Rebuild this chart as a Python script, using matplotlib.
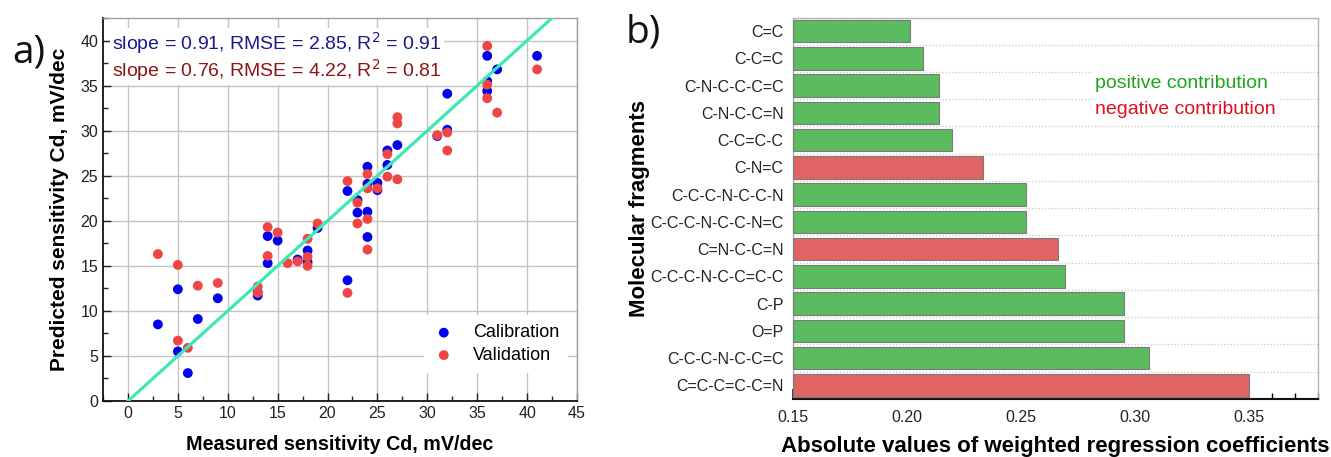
import matplotlib
matplotlib.use("Agg")
import matplotlib.pyplot as plt
import numpy as np
from matplotlib.ticker import MultipleLocator

plt.rcParams['font.family'] = ['Liberation Sans', 'DejaVu Sans']

# ---------------- data: panel a ----------------
cal_x = [3, 5, 5, 6, 7, 9, 13, 13, 14, 14, 15, 17, 18, 18, 19, 22, 22, 23, 23,
         24, 24, 24, 24, 25, 25, 26, 26, 27, 31, 32, 32, 36, 36, 36, 37, 41]
cal_y = [8.5, 12.4, 5.5, 3.1, 9.1, 11.4, 11.7, 12.1, 18.3, 15.3, 17.8, 15.7, 16.7, 15.4, 19.2,
         23.3, 13.4, 22.3, 20.9, 26.0, 24.1, 21.0, 18.2, 24.2, 23.4, 27.8, 26.2, 28.4,
         29.4, 34.1, 30.1, 38.3, 35.5, 34.4, 36.8, 38.3]
val_x = [3, 5, 5, 6, 7, 9, 13, 13, 14, 14, 15, 16, 17, 18, 18, 18, 19, 22, 22, 23, 23,
         24, 24, 24, 24, 25, 26, 26, 27, 27, 27, 31, 32, 32, 36, 36, 36, 37, 41]
val_y = [16.3, 15.1, 6.7, 5.9, 12.8, 13.1, 12.7, 12.0, 19.3, 16.1, 18.7, 15.3, 15.5, 18.0, 16.0,
         15.0, 19.7, 24.4, 12.0, 22.0, 19.7, 25.2, 23.6, 20.2, 16.8, 23.6, 27.4, 24.9,
         31.5, 30.8, 24.6, 29.5, 29.8, 27.8, 39.4, 35.1, 33.6, 32.0, 36.8]
fit_x = [0, 45]
fit_slope = 1.0
stats_cal = "slope = 0.91, RMSE = 2.85, R$^2$ = 0.91"
stats_val = "slope = 0.76, RMSE = 4.22, R$^2$ = 0.81"

# ---------------- data: panel b ----------------
fragments = ["C=C", "C-C=C", "C-N-C-C-C=C", "C-N-C-C=N", "C-C=C-C", "C-N=C",
             "C-C-C-N-C-C-N", "C-C-C-N-C-C-N=C", "C=N-C-C=N", "C-C-C-N-C-C=C-C",
             "C-P", "O=P", "C-C-C-N-C-C=C", "C=C-C=C-C=N"]
coefs = [0.201, 0.207, 0.214, 0.214, 0.2195, 0.233, 0.252, 0.252, 0.266, 0.269,
         0.295, 0.295, 0.306, 0.350]
signs = ["+", "+", "+", "+", "+", "-", "+", "+", "-", "+", "+", "+", "+", "-"]

fig = plt.figure(figsize=(13.31, 4.57), dpi=100)

# ================= panel a =================
ax = fig.add_axes([0.0774, 0.1225, 0.3561, 0.8381])
ax.set_xlim(-2.5, 45)
ax.set_ylim(0, 42.5)
ax.xaxis.set_major_locator(MultipleLocator(5))
ax.xaxis.set_minor_locator(MultipleLocator(2.5))
ax.yaxis.set_major_locator(MultipleLocator(5))
ax.yaxis.set_minor_locator(MultipleLocator(2.5))
ax.grid(True, which='major', color='#c4c4c4', lw=1.0, zorder=0)
ax.set_axisbelow(True)
ax.tick_params(which='major', direction='in', length=6, width=1, labelsize=11.5, color='#222222',
               labelcolor='#222222')
ax.tick_params(which='minor', direction='in', length=3.5, width=1, color='#222222')
for s in ['left', 'bottom']:
    ax.spines[s].set_color('#111111')
    ax.spines[s].set_linewidth(1.3)
for s in ['top', 'right']:
    ax.spines[s].set_color('#a0a0a0')
    ax.spines[s].set_linewidth(1.0)

fx = np.array(fit_x, dtype=float)
ax.plot(fx, fit_slope * fx, color='#3DE8B4', lw=2.3, zorder=4)
ax.scatter(cal_x, cal_y, s=50, color='#0000F0', edgecolors='none', zorder=3, label='Calibration')
ax.scatter(val_x, val_y, s=50, color='#F04545', edgecolors='none', zorder=3.5, label='Validation')

ax.text(0.019, 0.935, stats_cal, transform=ax.transAxes, fontsize=14, color='#1a1a8c',
        va='center', ha='left', zorder=6,
        bbox=dict(facecolor='white', edgecolor='none', pad=1.5))
ax.text(0.019, 0.864, stats_val, transform=ax.transAxes, fontsize=14, color='#8c1414',
        va='center', ha='left', zorder=6,
        bbox=dict(facecolor='white', edgecolor='none', pad=1.5))

leg = ax.legend(loc='lower right', bbox_to_anchor=(1.0, 0.05), fontsize=13, frameon=True,
                facecolor='white', edgecolor='none', framealpha=1, fancybox=False,
                handletextpad=1.0, borderpad=0.5, labelspacing=0.3, handlelength=1.2)
leg.set_zorder(7)

ax.set_xlabel("Measured sensitivity Cd, mV/dec", fontsize=14.2, fontweight='bold', labelpad=10)
ax.set_ylabel("Predicted sensitivity Cd, mV/dec", fontsize=15, fontweight='bold', labelpad=8)

# ================= panel b =================
bx = fig.add_axes([0.596, 0.127, 0.394, 0.8347])
ypos = np.arange(len(fragments))
colors = ['#5DBB5F' if s == '+' else '#E06464' for s in signs]
bx.barh(ypos, np.array(coefs) - 0.15, left=0.15, height=0.82, color=colors,
        edgecolor='#7a7a7a', linewidth=0.8, zorder=3)
bx.set_xlim(0.15, 0.38)
bx.set_ylim(len(fragments) - 0.5, -0.5)
bx.set_yticks(ypos)
bx.set_yticklabels(fragments, fontsize=11.5, color='#222222')
bx.set_yticks(np.arange(-0.5, len(fragments), 1.0), minor=True)
bx.grid(True, which='minor', axis='y', color='#c8c8c8', ls=':', lw=0.9, zorder=0)
bx.tick_params(axis='y', which='both', length=0, pad=7)
bx.xaxis.set_major_locator(MultipleLocator(0.05))
bx.xaxis.set_minor_locator(MultipleLocator(0.01))
bx.xaxis.set_major_formatter(matplotlib.ticker.FormatStrFormatter('%.2f'))
bx.tick_params(axis='x', which='major', direction='in', length=7, width=1.2, labelsize=11.5,
               pad=8, labelcolor='#222222')
bx.tick_params(axis='x', which='minor', direction='in', length=4, width=1.0)
bx.spines['bottom'].set_color('#111111')
bx.spines['bottom'].set_linewidth(1.5)
for s in ['top', 'right', 'left']:
    bx.spines[s].set_color('#b4b4b4')
    bx.spines[s].set_linewidth(1.0)

bx.text(0.575, 0.828, "positive contribution", transform=bx.transAxes, fontsize=14,
        color='#1ea51e', va='center', ha='left', zorder=6,
        bbox=dict(facecolor='white', edgecolor='none', pad=1.5))
bx.text(0.575, 0.760, "negative contribution", transform=bx.transAxes, fontsize=14,
        color='#e0101e', va='center', ha='left', zorder=6,
        bbox=dict(facecolor='white', edgecolor='none', pad=1.5))

bx.set_xlabel("Absolute values of weighted regression coefficients", fontsize=16,
              fontweight='bold', labelpad=8)
bx.set_ylabel("Molecular fragments", fontsize=16, fontweight='bold', labelpad=0)

# panel labels
fig.text(12 / 1331, 1 - 63 / 457, "a)", fontsize=28, family=['Open Sans', 'DejaVu Sans'],
         va='baseline', ha='left', color='#111111')
fig.text(626 / 1331, 1 - 42 / 457, "b)", fontsize=28, family=['Open Sans', 'DejaVu Sans'],
         va='baseline', ha='left', color='#111111')

fig.savefig("out.png", dpi=100)
